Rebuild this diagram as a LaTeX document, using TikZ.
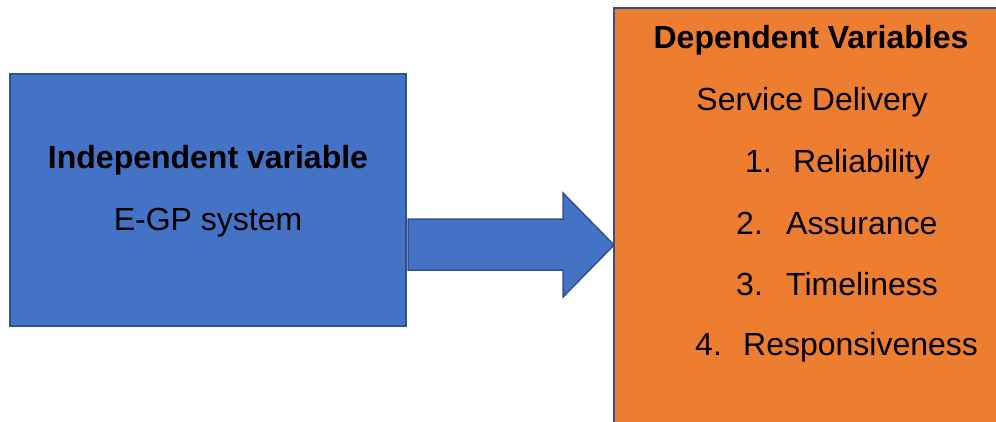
\documentclass[tikz,border=0pt]{standalone}
\usepackage{fontspec}
\setmainfont{Liberation Sans}
\definecolor{boxblue}{HTML}{4472C4}
\definecolor{edgeblue}{HTML}{2F528F}
\definecolor{boxorange}{HTML}{ED7D31}
\tikzset{
  px/.style={x=1pt,y=-1pt},
  txt/.style={inner sep=0pt,anchor=base,font=\fontsize{32}{38}\selectfont},
  txtw/.style={inner sep=0pt,anchor=base west,font=\fontsize{32}{38}\selectfont},
  bluebox/.style={fill=boxblue,draw=edgeblue,line width=1.5pt},
  orangebox/.style={fill=boxorange,draw=edgeblue,line width=1.5pt}
}
\begin{document}
\begin{tikzpicture}[px]
\useasboundingbox (0,0) rectangle (996,421);
\clip (0,0) rectangle (996,421);
\fill[white] (0,0) rectangle (996,421);
% left box
\draw[bluebox] (10,74) rectangle (406,326);
\node[txt,font=\fontsize{32}{38}\selectfont\bfseries] (iv) at (208,168) {Independent variable};
\node[txt] (egp) at (208,230) {E-GP system};
% right box
\draw[orangebox] (614,8) rectangle (1010,440);
\node[txt,font=\fontsize{32}{38}\selectfont\bfseries] (dv) at (811,48) {Dependent Variables};
\node[txt] (sd) at (812,110) {Service Delivery};
\node[txtw] (n1) at (745,172) {1.};
\node[txtw] (t1) at (793,172) {Reliability};
\node[txtw] (n2) at (736,234) {2.};
\node[txtw] (t2) at (786,234) {Assurance};
\node[txtw] (n3) at (736,295) {3.};
\node[txtw] (t3) at (786,295) {Timeliness};
\node[txtw] (n4) at (695,355) {4.};
\node[txtw] (t4) at (743,355) {Responsiveness};
% block arrow
\draw[bluebox,line join=miter] (408,219) -- (563,219) -- (563,193) -- (614,245) -- (563,297) -- (563,270) -- (408,270) -- cycle;
\end{tikzpicture}
\end{document}
